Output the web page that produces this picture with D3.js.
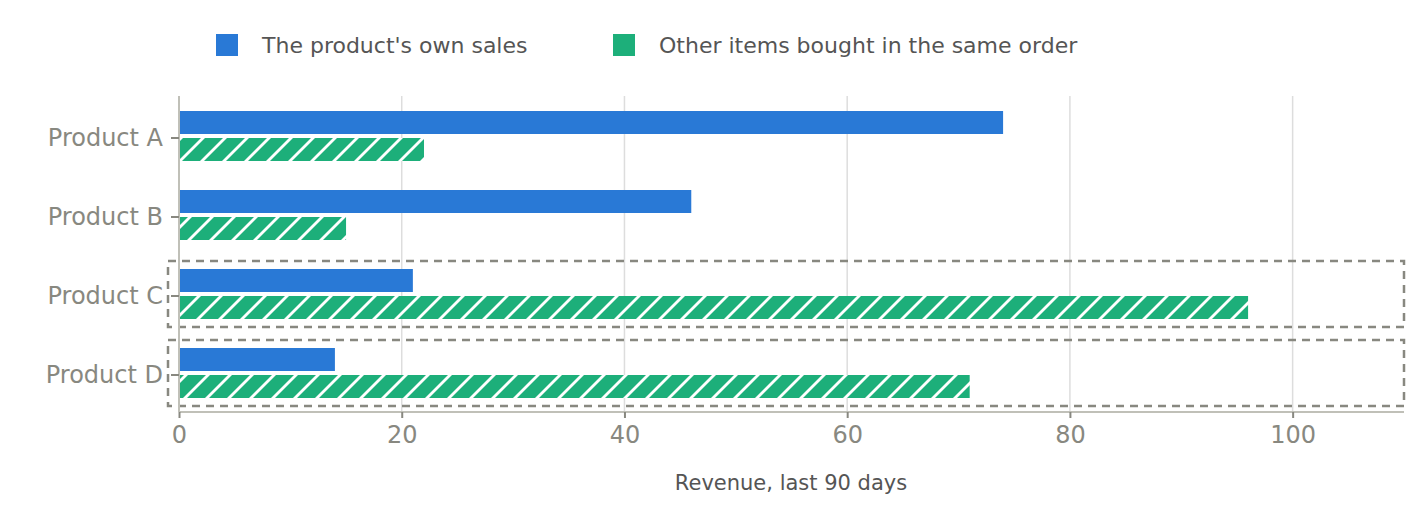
<!DOCTYPE html>
<html><head><meta charset="utf-8">
<script src="https://cdn.jsdelivr.net/npm/d3@7"></script>
<style>body{margin:0;background:#fff}</style></head>
<body><svg id="c" width="1427" height="519"></svg>
<script>
const categories=["Product A","Product B","Product C","Product D"];
const ownSales=[74,46,21,14];
const otherItems=[22,15,96,71];
const xTicks=[0,20,40,60,80,100];
const highlighted=["Product C","Product D"];
const seriesNames=["The product's own sales","Other items bought in the same order"];
const colors=["#2979d6","#1daf7a"];

const svg=d3.select("#c");
const font="DejaVu Sans, sans-serif";
const x=d3.scaleLinear().domain([0,110]).range([179,1404]);
const y=d3.scaleBand().domain(categories).range([98.5,414.5]).paddingInner(0).paddingOuter(0);
const defs=svg.append("defs");
const pat=defs.append("pattern").attr("id","hatch").attr("patternUnits","userSpaceOnUse")
 .attr("width",22).attr("height",22).attr("patternTransform","rotate(45)");
pat.append("rect").attr("width",22).attr("height",22).attr("fill",colors[1]);
pat.append("line").attr("x1",0).attr("y1",0).attr("x2",0).attr("y2",22).attr("stroke","#fff").attr("stroke-width",4);
pat.attr("patternTransform","skewX(-45)");
pat.select("line").attr("x1",11).attr("x2",11);

// grid
svg.append("g").selectAll("line").data(xTicks.slice(1)).join("line")
 .attr("x1",d=>x(d)).attr("x2",d=>x(d)).attr("y1",96).attr("y2",412)
 .attr("stroke","#dddddd").attr("stroke-width",1.5);

const bh=23;
const g=svg.append("g");
categories.forEach((c,i)=>{
  const cy=y(c)+y.bandwidth()/2;
  g.append("rect").attr("x",x(0)+1).attr("y",cy-27).attr("width",x(ownSales[i])-x(0)-1).attr("height",bh).attr("fill",colors[0]);
  g.append("rect").attr("x",x(0)+1).attr("y",cy).attr("width",x(otherItems[i])-x(0)-1).attr("height",bh).attr("fill","url(#hatch)");
});
// highlight boxes
highlighted.forEach(c=>{
  const cy=y(c)+y.bandwidth()/2;
  svg.append("rect").attr("x",168).attr("y",cy-35).attr("width",1404-168).attr("height",66)
   .attr("fill","none").attr("stroke","#888880").attr("stroke-width",2.5).attr("stroke-dasharray","8,6");
});
// axes
svg.append("line").attr("x1",179).attr("x2",179).attr("y1",96).attr("y2",412).attr("stroke","#c0c0b8").attr("stroke-width",2);
svg.append("line").attr("x1",179).attr("x2",1404).attr("y1",412).attr("y2",412).attr("stroke","#c0c0b8").attr("stroke-width",2);
const xa=svg.append("g").attr("transform","translate(0,412)").call(d3.axisBottom(x).tickValues(xTicks).tickSize(6).tickPadding(8));
xa.select(".domain").remove();
xa.selectAll("line").attr("stroke","#888880").attr("stroke-width",2);
xa.selectAll("text").attr("font-family",font).attr("font-size",24).attr("fill","#888880");
const ya=svg.append("g").attr("transform","translate(179,0)").call(d3.axisLeft(y).tickSize(8).tickPadding(8));
ya.select(".domain").remove();
ya.selectAll("line").attr("stroke","#888880").attr("stroke-width",2);
ya.selectAll("text").attr("font-family",font).attr("font-size",24).attr("fill","#888880");
svg.append("text").attr("x",791).attr("y",490).attr("text-anchor","middle").attr("font-family",font)
 .attr("font-size",21).attr("fill","#555").text("Revenue, last 90 days");
// legend
const lx=[216,613];
seriesNames.forEach((n,i)=>{
  svg.append("rect").attr("x",lx[i]).attr("y",34).attr("width",22).attr("height",22).attr("fill",colors[i]);
  svg.append("text").attr("x",lx[i]+46).attr("y",53).attr("font-family",font).attr("font-size",22).attr("fill","#555").text(n);
});
</script></body></html>
